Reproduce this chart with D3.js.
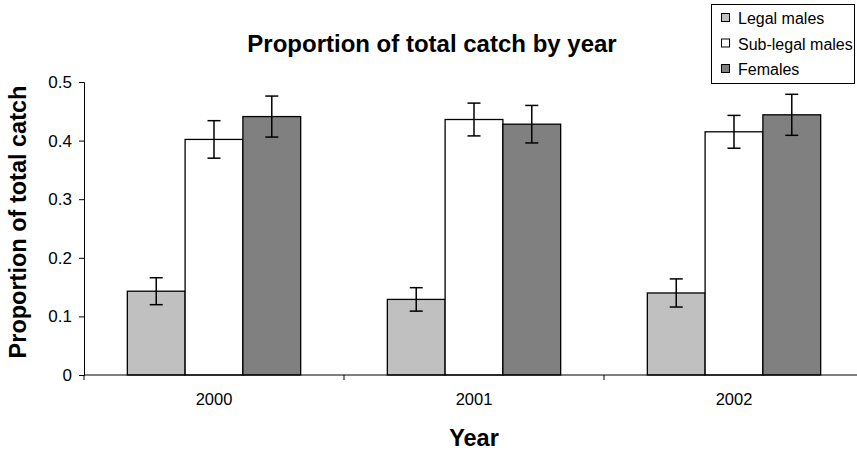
<!DOCTYPE html>
<html>
<head>
<meta charset="utf-8">
<script src="https://cdn.jsdelivr.net/npm/d3@7"></script>
<style>
  body { margin: 0; background: #fff; }
  text { font-family: "Liberation Sans", Arial, sans-serif; fill: #000; }
</style>
</head>
<body>
<div id="chart"></div>
<script>
// values
const years = ['2000', '2001', '2002'];
const seriesNames = ['Legal males', 'Sub-legal males', 'Females'];
const legalMales = [0.143, 0.129, 0.140];
const subLegalMales = [0.402, 0.436, 0.415];
const females = [0.441, 0.428, 0.444];
const legalErr = [0.023, 0.020, 0.024];
const subLegalErr = [0.032, 0.028, 0.028];
const femalesErr = [0.035, 0.032, 0.035];
const yTicks = [0, 0.1, 0.2, 0.3, 0.4, 0.5];
const colors = ['#c0c0c0', '#ffffff', '#808080'];

const width = 857, height = 455;
const margin = { top: 82, right: -7, bottom: 80, left: 84 };

let values = [legalMales, subLegalMales, females];
let errors = [legalErr, subLegalErr, femalesErr];
let rows = [];
years.forEach((yr, i) => {
    seriesNames.forEach((s, j) => {
        rows.push({ year: yr, series: s, idx: j, value: values[j][i], err: errors[j][i] });
    });
});

let svg = d3.select('#chart').append('svg')
    .attr('width', width)
    .attr('height', height);

let x0 = d3.scaleBand()
    .domain(years)
    .range([margin.left, width - margin.right])
    .padding(0);

let x1 = d3.scaleBand()
    .domain(seriesNames)
    .range([0, x0.bandwidth()])
    .paddingInner(0)
    .paddingOuter(0.75);

let y = d3.scaleLinear()
    .domain([0, 0.5])
    .range([height - margin.bottom, margin.top]);

// title
svg.append('text')
    .attr('x', 432)
    .attr('y', 52)
    .attr('text-anchor', 'middle')
    .style('font-size', '24px')
    .style('font-weight', 'bold')
    .text('Proportion of total catch by year');

// bars
let bars = svg.append('g');
bars.selectAll('rect')
    .data(rows)
    .enter()
    .append('rect')
    .attr('x', d => x0(d.year) + x1(d.series))
    .attr('y', d => y(d.value))
    .attr('width', x1.bandwidth())
    .attr('height', d => y(0) - y(d.value))
    .attr('fill', d => colors[d.idx])
    .attr('stroke', '#000')
    .attr('stroke-width', 1.3);

// error bars
let errG = svg.append('g')
    .attr('stroke', '#000')
    .attr('stroke-width', 1.5);
let capW = 6.5;
rows.forEach(d => {
    let cx = x0(d.year) + x1(d.series) + x1.bandwidth() / 2;
    errG.append('line')
        .attr('x1', cx).attr('x2', cx)
        .attr('y1', y(d.value + d.err)).attr('y2', y(d.value - d.err));
    errG.append('line')
        .attr('x1', cx - capW).attr('x2', cx + capW)
        .attr('y1', y(d.value + d.err)).attr('y2', y(d.value + d.err));
    errG.append('line')
        .attr('x1', cx - capW).attr('x2', cx + capW)
        .attr('y1', y(d.value - d.err)).attr('y2', y(d.value - d.err));
});

// y axis
let yAxis = svg.append('g')
    .attr('transform', `translate(${margin.left},0)`)
    .call(d3.axisLeft(y).tickValues(yTicks).tickSize(5).tickPadding(7).tickFormat(d3.format('')));
yAxis.select('.domain').attr('stroke', '#000');
yAxis.selectAll('.tick line').attr('stroke', '#000');
yAxis.selectAll('text')
    .style('font-size', '17px')
    .style('font-family', '"Liberation Sans", Arial, sans-serif');

// x axis: ticks sit between the year groups
let xAxisG = svg.append('g')
    .attr('transform', `translate(0,${y(0)})`);
xAxisG.append('line')
    .attr('x1', margin.left).attr('x2', width - margin.right)
    .attr('stroke', '#000');
xAxisG.selectAll('.boundary')
    .data(years)
    .enter()
    .append('line')
    .attr('x1', d => x0(d)).attr('x2', d => x0(d))
    .attr('y1', 0).attr('y2', 5)
    .attr('stroke', '#000');
xAxisG.selectAll('.year-label')
    .data(years)
    .enter()
    .append('text')
    .attr('x', d => x0(d) + x0.bandwidth() / 2)
    .attr('y', 30)
    .attr('text-anchor', 'middle')
    .style('font-size', '16.5px')
    .text(d => d);

// axis titles
svg.append('text')
    .attr('x', 474)
    .attr('y', 446)
    .attr('text-anchor', 'middle')
    .style('font-size', '23.5px')
    .style('font-weight', 'bold')
    .text('Year');

svg.append('text')
    .attr('transform', 'translate(26,222) rotate(-90)')
    .attr('text-anchor', 'middle')
    .style('font-size', '23.5px')
    .style('font-weight', 'bold')
    .text('Proportion of total catch');

// legend
let legend = svg.append('g');
legend.append('rect')
    .attr('x', 711.5).attr('y', 4.5)
    .attr('width', 143).attr('height', 79)
    .attr('fill', '#fff')
    .attr('stroke', '#000');
let items = legend.selectAll('.item')
    .data(seriesNames)
    .enter()
    .append('g')
    .attr('transform', (d, i) => `translate(721,${18 + i * 25.5})`);
items.append('rect')
    .attr('x', 0.5).attr('y', -4.5)
    .attr('width', 8).attr('height', 8)
    .attr('fill', (d, i) => colors[i])
    .attr('stroke', '#000');
items.append('text')
    .attr('x', 17)
    .attr('y', 6)
    .style('font-size', '16px')
    .text(d => d);
</script>
</body>
</html>
